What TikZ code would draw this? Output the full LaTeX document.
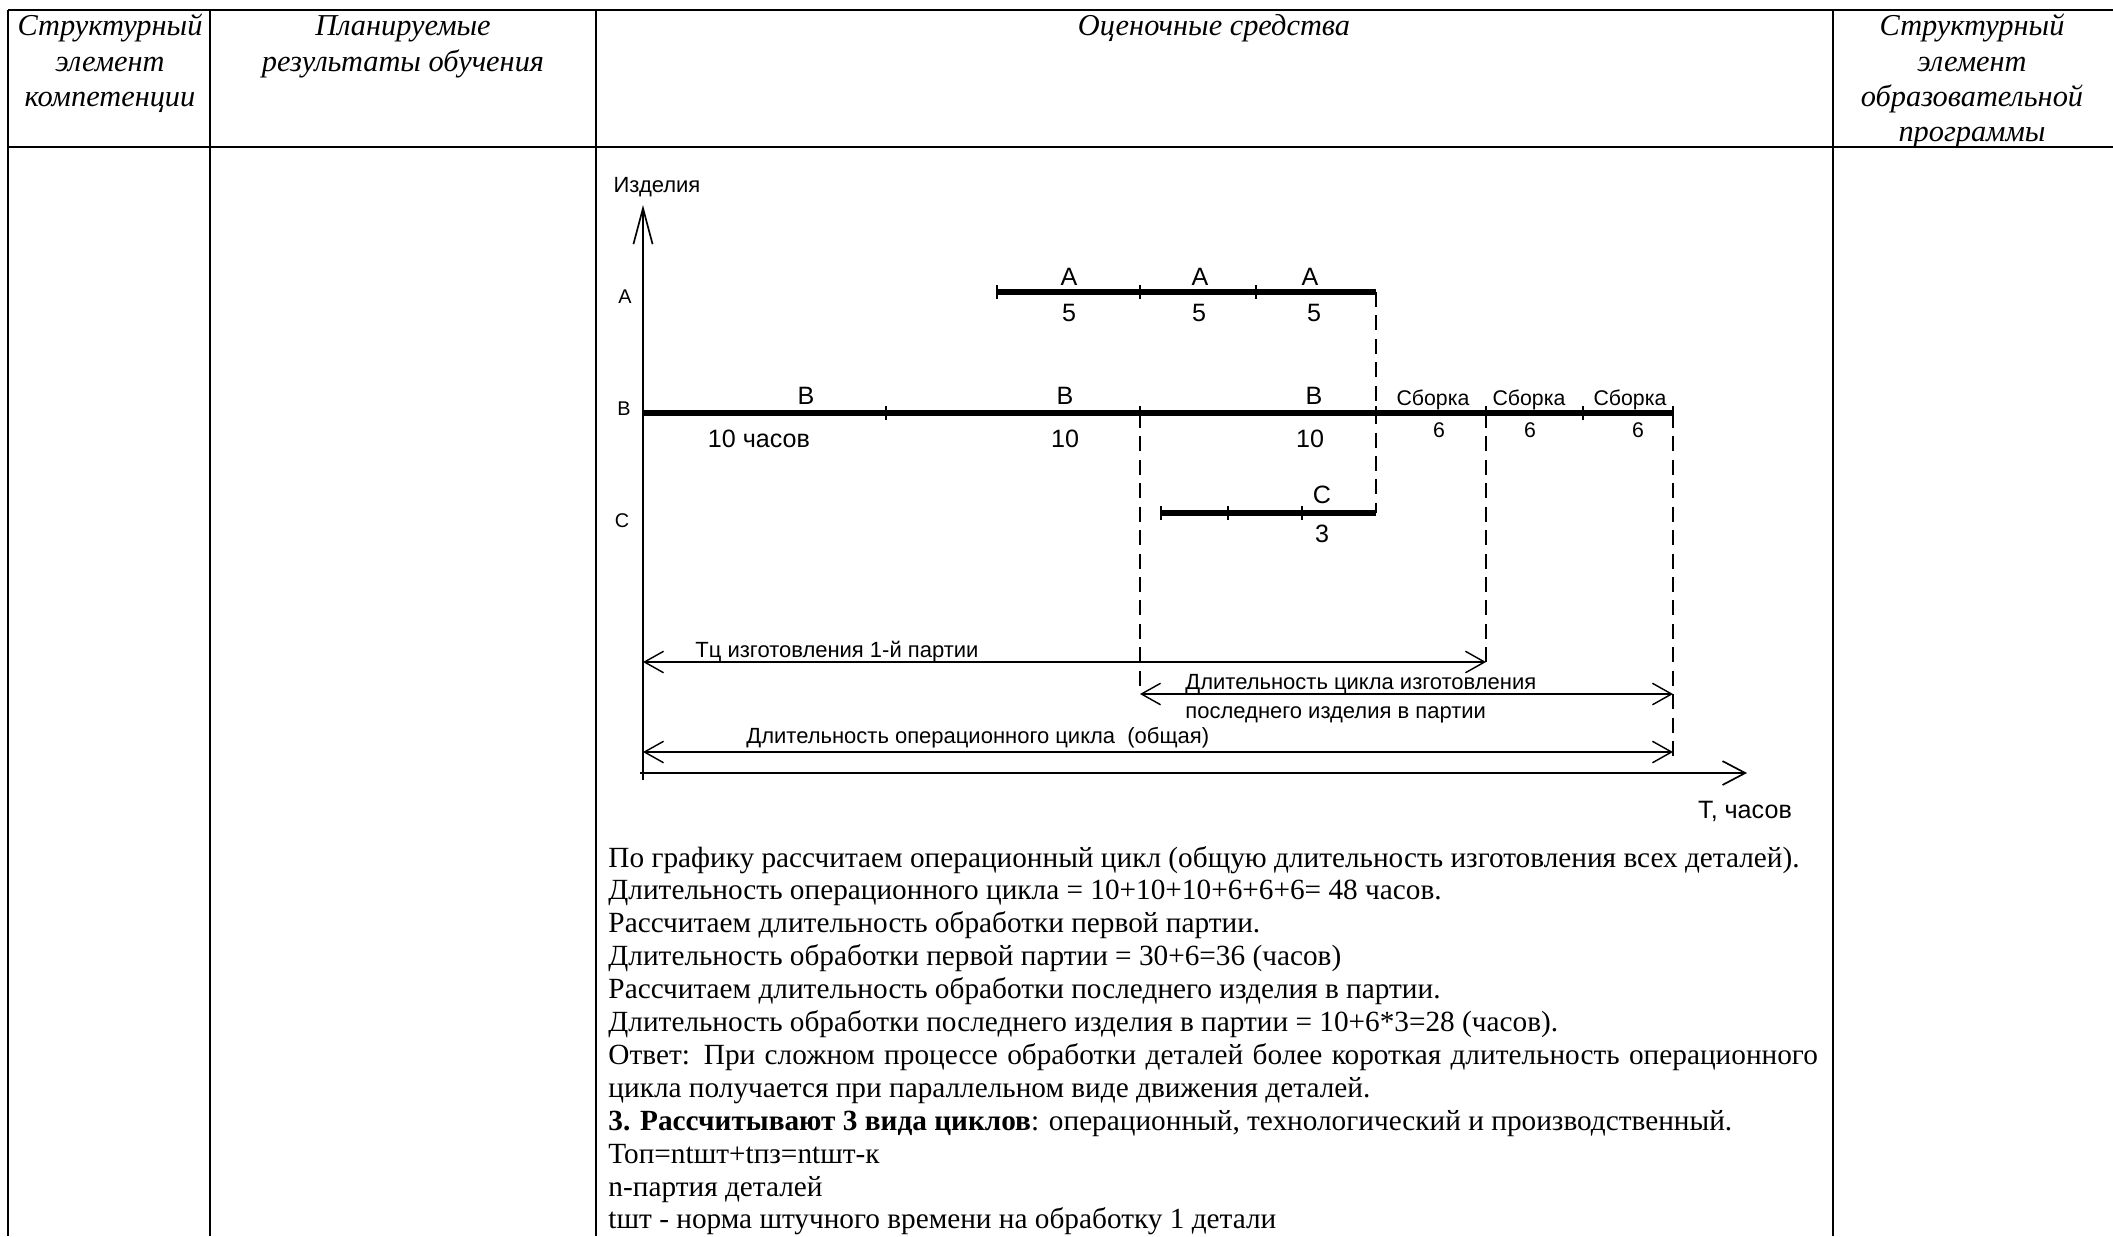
\documentclass[tikz,border=0pt]{standalone}
\usepackage{fontspec}
\setmainfont{Liberation Serif}
\newfontfamily\diagfont{Liberation Sans}
\usetikzlibrary{arrows.meta}
\begin{document}
\begin{tikzpicture}[x=0.4184pt,y=-0.4184pt,
  tbl/.style={line width=1.1pt},
  hdr/.style={font=\fontsize{12.7}{15}\selectfont\itshape, anchor=base, inner sep=0pt},
  body/.style={font=\fontsize{12.25}{14}\selectfont, anchor=base west, inner sep=0pt},
  axisline/.style={line width=0.7pt},
  bar/.style={line width=2.2pt},
  tickmark/.style={line width=0.7pt},
  dsh/.style={line width=0.7pt, dash pattern=on 6.3pt off 3.5pt},
  dim/.style={line width=0.6pt, {Straight Barb[length=8pt,width=9pt]}-{Straight Barb[length=8pt,width=9pt]}},
  big/.style={font=\diagfont\fontsize{10.5}{12}\selectfont, anchor=base, inner sep=0pt},
  small/.style={font=\diagfont\fontsize{9.2}{11}\selectfont, anchor=base, inner sep=0pt},
  asm/.style={font=\diagfont\fontsize{8.9}{10}\selectfont, anchor=base, inner sep=0pt},
  tiny/.style={font=\diagfont\fontsize{8.3}{10}\selectfont, anchor=base, inner sep=0pt},
]
\useasboundingbox (0,0) rectangle (2113,1236);
\fill[white] (0,0) rectangle (2113,1236);

% table
\draw[tbl] (8,10) -- (2113,10);
\draw[tbl] (8,147) -- (2113,147);
\draw[tbl] (8,10) -- (8,1236);
\draw[tbl] (210,10) -- (210,1236);
\draw[tbl] (596,10) -- (596,1236);
\draw[tbl] (1833,10) -- (1833,1236);

% headers
\node[hdr] (h0a) at (110,35) {Структурный};
\node[hdr] (h0b) at (110,71) {элемент};
\node[hdr] (h0c) at (110,106) {компетенции};
\node[hdr] (h1a) at (403,35) {Планируемые};
\node[hdr] (h1b) at (403,71) {результаты обучения};
\node[hdr] (h2a) at (1214,35) {Оценочные средства};
\node[hdr] (h3a) at (1972,35) {Структурный};
\node[hdr] (h3b) at (1972,71) {элемент};
\node[hdr] (h3c) at (1972,106) {образовательной};
\node[hdr] (h3d) at (1972,141) {программы};

% axes
\coordinate (Ytop) at (643,205);
\coordinate (Ybot) at (643,780);
\coordinate (Xstart) at (640,773);
\coordinate (Xend) at (1747,773);
\draw[axisline, -{Straight Barb[length=15pt,width=8pt]}] (Ybot) -- (Ytop);
\draw[axisline, -{Straight Barb[length=9.5pt,width=10pt]}] (Xstart) -- (Xend);
\node[small] (ylab) at (657,192) {Изделия};
\node[big] (xlab) at (1745,818) {T, часов};
\node[tiny] (rowA) at (625,303) {A};
\node[tiny] (rowB) at (624,415) {B};
\node[tiny] (rowC) at (622,527) {C};

% bars
\draw[bar] (997,292) -- (1376,292);
\foreach \t in {997,1140,1256} \draw[tickmark] (\t,285) -- (\t,299);
\draw[bar] (643,413) -- (1673,413);
\foreach \t in {886,1140,1376,1486,1583,1673} \draw[tickmark] (\t,406) -- (\t,420);
\draw[bar] (1161,513) -- (1376,513);
\foreach \t in {1161,1228,1302} \draw[tickmark] (\t,506) -- (\t,520);

% dashed verticals
\draw[dsh] (1376,292) -- (1376,513);
\draw[dsh] (1140,413) -- (1140,694);
\draw[dsh] (1486,413) -- (1486,662);
\draw[dsh] (1673,413) -- (1673,763);

% dimension arrows
\coordinate (d1a) at (643,662);
\coordinate (d1b) at (1486,662);
\coordinate (d2a) at (1140,694);
\coordinate (d2b) at (1673,694);
\coordinate (d3a) at (643,752);
\coordinate (d3b) at (1673,752);
\draw[dim] (d1a) -- (d1b);
\draw[dim] (d2a) -- (d2b);
\draw[dim] (d3a) -- (d3b);
\node[small, anchor=base west] (t1) at (695,657) {Тц изготовления 1-й партии};
\node[small, anchor=base west] (t2) at (1185,689) {Длительность цикла изготовления};
\node[small, anchor=base west] (t3) at (1185,718) {последнего изделия в партии};
\node[small, anchor=base west] (t4) at (746,743) {Длительность операционного цикла \ (общая)};

% bar labels
\node[big] (a1) at (1069,285) {A};
\node[big] (a2) at (1200,285) {A};
\node[big] (a3) at (1310,285) {A};
\node[big] (a1n) at (1069,321) {5};
\node[big] (a2n) at (1199,321) {5};
\node[big] (a3n) at (1314,321) {5};
\node[big] (b1) at (806,404) {B};
\node[big] (b2) at (1065,404) {B};
\node[big] (b3) at (1314,404) {B};
\node[big] (b1n) at (759,447) {10 часов};
\node[big] (b2n) at (1065,447) {10};
\node[big] (b3n) at (1310,447) {10};
\node[asm] (s1) at (1433,405) {Сборка};
\node[asm] (s2) at (1529,405) {Сборка};
\node[asm] (s3) at (1630,405) {Сборка};
\node[asm] (s1n) at (1439,437) {6};
\node[asm] (s2n) at (1530,437) {6};
\node[asm] (s3n) at (1638,437) {6};
\node[big] (c1) at (1322,503) {C};
\node[big] (c1n) at (1322,542) {3};

% body text
\node[body] (l1) at (608,867) {По графику рассчитаем операционный цикл (общую длительность изготовления всех деталей).};
\node[body] (l2) at (608,899.9) {Длительность операционного цикла = 10+10+10+6+6+6= 48 часов.};
\node[body] (l3) at (608,932.8) {Рассчитаем длительность обработки первой партии.};
\node[body] (l4) at (608,965.7) {Длительность обработки первой партии = 30+6=36 (часов)};
\node[body] (l5) at (608,998.6) {Рассчитаем длительность обработки последнего изделия в партии.};
\node[body] (l6) at (608,1031.5) {Длительность обработки последнего изделия в партии = 10+6*3=28 (часов).};
\node[body] (l7) at (608,1064.4) {\makebox[506pt][s]{Ответ: При сложном процессе обработки деталей более короткая длительность операционного}};
\node[body] (l8) at (608,1097.3) {цикла получается при параллельном виде движения деталей.};
\node[body] (l9) at (608,1130.2) {\textbf{3. Рассчитывают 3 вида циклов}: операционный, технологический и производственный.};
\node[body] (l10) at (608,1163.1) {Топ=ntшт+tпз=ntшт-к};
\node[body] (l11) at (608,1196) {n-партия деталей};
\node[body] (l12) at (608,1228.9) {tшт - норма штучного времени на обработку 1 детали};
\end{tikzpicture}
\end{document}
